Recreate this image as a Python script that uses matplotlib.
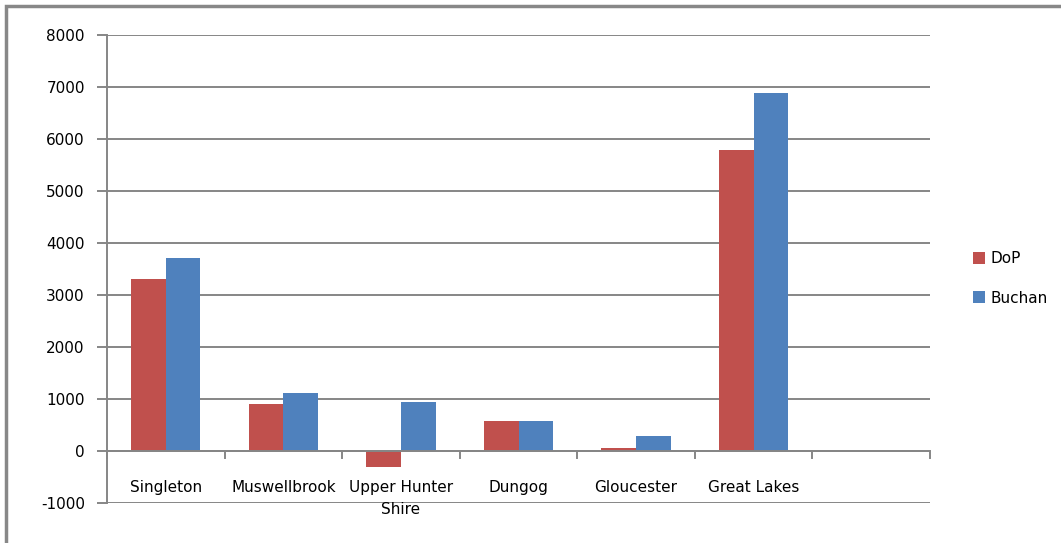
import matplotlib.pyplot as plt
import numpy as np
from matplotlib.patches import Rectangle

plt.rcParams['font.family'] = ['DejaVu Sans']
plt.rcParams['axes.unicode_minus'] = False

councils = ["Singleton", "Muswellbrook", "Upper Hunter\nShire", "Dungog",
            "Gloucester", "Great Lakes", ""]
dop = [3300, 900, -300, 580, 60, 5780, np.nan]
buchan = [3720, 1110, 940, 580, 290, 6880, np.nan]

red = "#C0504D"
blue = "#4F81BD"
grey = "#868686"

fig = plt.figure(figsize=(10.61, 5.43), dpi=100)
ax = fig.add_axes([107 / 1061, 1 - 503 / 543, (930 - 107) / 1061, (503 - 35) / 543])

x = np.arange(len(councils))
w = 0.295
ax.bar(x - w / 2, dop, w, color=red, label="DoP", zorder=3)
ax.bar(x + w / 2, buchan, w, color=blue, label="Buchan", zorder=3)

ax.set_xlim(-0.5, len(councils) - 0.5)
ax.set_ylim(-1000, 8000)
ax.set_yticks(range(-1000, 8001, 1000))
ax.yaxis.grid(True, color=grey, linewidth=1.4, zorder=0)

for s in ["top", "right", "bottom"]:
    ax.spines[s].set_visible(False)
ax.spines["left"].set_color(grey)
ax.spines["left"].set_linewidth(1.4)

# category axis drawn at zero
ax.axhline(0, color=grey, linewidth=1.4, zorder=4)
for b in np.arange(len(councils) + 1) - 0.5:
    ax.plot([b, b], [0, -130], color=grey, linewidth=1.4, zorder=4, clip_on=False)

ax.set_xticks([])
for xi, name in zip(x, councils):
    ax.text(xi, -560, name, ha="center", va="top", fontsize=11,
            linespacing=1.55)
ax.tick_params(axis="y", color=grey, width=1.4, length=7, labelsize=11, pad=9)

ax.legend(loc="center left", bbox_to_anchor=(1.035, 0.48), frameon=False,
          fontsize=11, handlelength=0.8, handleheight=0.8, labelspacing=1.6,
          handletextpad=0.4)

# outer chart frame
fig.patches.append(Rectangle((6 / 1061, -0.05), 1.1, 1 - 6 / 543 + 0.05,
                             transform=fig.transFigure, fill=False,
                             edgecolor="#888888", linewidth=2.5))

fig.savefig("out.png", dpi=100)
